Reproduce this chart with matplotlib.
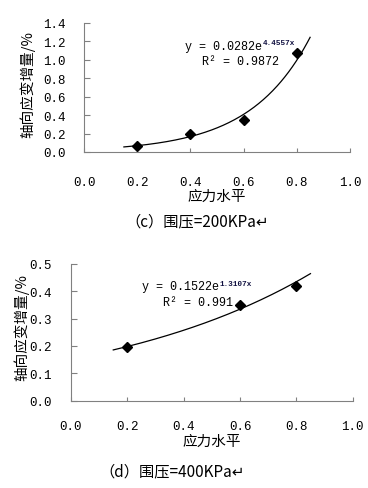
import matplotlib
matplotlib.use("Agg")
import matplotlib.pyplot as plt
import numpy as np

# ---- data ----
x_c = [0.2, 0.4, 0.6, 0.8]
y_c = [0.07, 0.19, 0.345, 1.07]
a_c, b_c = 0.0282, 4.4557
x_d = [0.2, 0.6, 0.8]
y_d = [0.195, 0.35, 0.42]
a_d, b_d = 0.1522, 1.3107
xticks = [0.0, 0.2, 0.4, 0.6, 0.8, 1.0]
yticks_c = [0.0, 0.2, 0.4, 0.6, 0.8, 1.0, 1.2, 1.4]
yticks_d = [0.0, 0.1, 0.2, 0.3, 0.4, 0.5]
ylabel = "轴向应变增量/%"
xlabel = "应力水平"
cap_c = "（c）围压=200KPa↵"
cap_d = "（d）围压=400KPa↵"
eq_c = ("y = 0.0282e", "4.4557x", "R² = 0.9872")
eq_d = ("y = 0.1522e", "1.3107x", "R² = 0.991")

W, H = 368, 489
fig = plt.figure(figsize=(W / 100, H / 100), dpi=100)
cjk = ['Noto Sans CJK SC', 'DejaVu Sans']
mono = 'Liberation Mono'
spine_col = '#808080'


def make_ax(rect, xs, ys, a, b, yticks, eq, eqpos, ylab_coords, pad_x, pad_y):
    ax = fig.add_axes(rect)
    xf = np.linspace(0.15, 0.85, 200)
    ax.plot(xf, a * np.exp(b * xf), color='black', lw=0.9)
    ax.plot(xs, ys, linestyle='none', marker='D', color='black', markersize=5)
    ax.set_xlim(0, 1.0)
    ax.set_ylim(yticks[0], yticks[-1])
    ax.set_xticks(xticks)
    ax.set_xticklabels([f"{t:.1f}" for t in xticks], fontfamily=mono, fontsize=9)
    ax.set_yticks(yticks)
    ax.set_yticklabels([f"{t:.1f}" for t in yticks], fontfamily=mono, fontsize=9)
    ax.tick_params(axis='x', direction='in', length=3, pad=pad_x, color=spine_col)
    ax.tick_params(axis='y', direction='in', length=4, pad=pad_y, color=spine_col)
    for s in ['top', 'right']:
        ax.spines[s].set_visible(False)
    for s in ['left', 'bottom']:
        ax.spines[s].set_color(spine_col)
        ax.spines[s].set_linewidth(0.8)
    ax.set_ylabel(ylabel, family=cjk, fontsize=10.5)
    ax.yaxis.set_label_coords(*ylab_coords)
    ax.set_xlabel(xlabel, family=cjk, fontsize=10.5, labelpad=1)
    # equation
    ex, ey, rx, ry = eqpos
    t1 = ax.text(ex, ey, eq[0], transform=ax.transAxes, fontfamily=mono, fontsize=8.5,
                 ha='left', va='center')
    ax.annotate(eq[1], xy=(1.0, 0.75), xycoords=t1, xytext=(0.5, 0),
                textcoords='offset points', fontfamily=mono, fontsize=5.5,
                ha='left', va='center', color='#101040', fontweight='bold')
    ax.text(rx, ry, eq[2], transform=ax.transAxes, fontfamily=mono, fontsize=8.5,
            ha='left', va='center')
    return ax


# top axes: left 84, right 350, y0 153, ytop 24 (pixels)
L, R, B, T = 84, 350, 153, 24
ax1 = make_ax([L / W, 1 - B / H, (R - L) / W, (B - T) / H], x_c, y_c, a_c, b_c,
              yticks_c, eq_c,
              ((185 - L) / (R - L), (B - 47) / (B - T),
               (202 - L) / (R - L), (B - 62) / (B - T)),
              ((35 - L) / (R - L), 0.53), 17, 13)

# bottom axes: left 71, right 352.7, y0 401.7, ytop 264.7
L2, R2, B2, T2 = 71, 352.7, 401.7, 264.7
ax2 = make_ax([L2 / W, 1 - B2 / H, (R2 - L2) / W, (B2 - T2) / H], x_d, y_d, a_d, b_d,
              yticks_d, eq_d,
              ((142 - L2) / (R2 - L2), (B2 - 287) / (B2 - T2),
               (163 - L2) / (R2 - L2), (B2 - 303) / (B2 - T2)),
              ((29 - L2) / (R2 - L2), 0.545), 14, 14)

fig.text(197 / W, 1 - 222 / H, cap_c, family=cjk, fontsize=11, ha='center', va='center')
fig.text(172 / W, 1 - 472 / H, cap_d, family=cjk, fontsize=11, ha='center', va='center')

fig.savefig("out.png", dpi=100)
